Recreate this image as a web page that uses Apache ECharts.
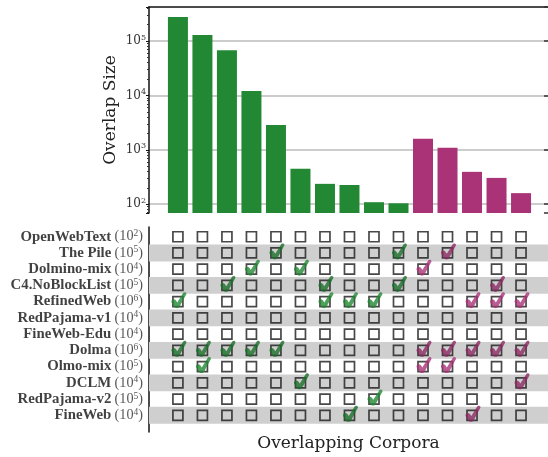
<!DOCTYPE html>
<html><head><meta charset="utf-8">
<script src="https://cdn.jsdelivr.net/npm/echarts@6/dist/echarts.min.js"></script>
<style>html,body{margin:0;padding:0;background:#fff}#c{width:548px;height:457px}</style>
</head><body><div id="c"></div>
<script>
// ---- data ----
const corpora = ['OpenWebText','The Pile','Dolmino-mix','C4.NoBlockList','RefinedWeb','RedPajama-v1','FineWeb-Edu','Dolma','Olmo-mix','DCLM','RedPajama-v2','FineWeb'];
const corpusExp = [2,5,4,5,6,4,4,6,5,4,5,4];
const overlapSizes = [277000,129000,68000,12100,2860,447,237,226,109,104,1600,1090,394,305,160];
const overlapMembers = [[4,7],[7,8],[3,7],[2,7],[1,7],[2,9],[3,4],[4,11],[4,10],[1,3],[2,7,8],[1,7,8],[4,7,11],[3,4,7],[4,7,9]];
const overlapGroup = [0,0,0,0,0,0,0,0,0,0,1,1,1,1,1];
const yTickExps = [2,3,4,5];

// ---- style ----
const FONT = 'DejaVu Serif';
const LFONT = 'Liberation Serif';
const COLORS = ['#228833','#AA3377'];
const COLORS_DARK = ['#1c6e2b','#8c2b63'];
const XMIN = -1.18, XMAX = 15.1;
const YMIN = -0.6, YMAX = 12.03;
const CHECK = 'path://M0,56 C4,44 20,42 30,54 L38,66 L78,4 C84,-3 100,0 99,12 L54,92 C46,106 26,106 18,92 L2,68 C-1,64 -1,60 0,56 Z';

const rich = {
  n:{fontFamily:LFONT,fontSize:14.2,color:'#2a2a2a',lineHeight:16},
  s:{fontFamily:LFONT,fontSize:9.5,color:'#2a2a2a',lineHeight:16,verticalAlign:'top'},
  b:{fontFamily:LFONT,fontSize:14.8,fontWeight:'bold',color:'#111',lineHeight:16}
};
const tickRich = {
  n:{fontFamily:FONT,fontSize:12,color:'#333',lineHeight:15},
  s:{fontFamily:FONT,fontSize:8,color:'#333',lineHeight:15,verticalAlign:'top'}
};

const chart = echarts.init(document.getElementById('c'));

const boxData = [], checkData = [];
for (let i = 0; i < overlapSizes.length; i++) {
  for (let k = 0; k < corpora.length; k++) boxData.push([i,k]);
  overlapMembers[i].forEach(k => {
    const g = overlapGroup[i];
    checkData.push({value:[i,k], itemStyle:{color: (k % 2 === 1) ? COLORS_DARK[g] : COLORS[g]}});
  });
}
const stripes = [];
for (let k = 1; k < corpora.length; k += 2) stripes.push([{yAxis:k-0.52},{yAxis:k+0.52}]);

const option = {
  animation:false,
  grid:[
    {left:149, right:-1, top:7, height:206},
    {left:149, right:-1, top:227, height:205}
  ],
  xAxis:[
    {gridIndex:0, type:'value', min:XMIN, max:XMAX, position:'top',
     axisLine:{show:true,onZero:false,lineStyle:{color:'#111',width:1.5}},
     axisTick:{show:false}, axisLabel:{show:false}, splitLine:{show:false}},
    {gridIndex:1, type:'value', min:XMIN, max:XMAX, position:'bottom',
     axisLine:{show:false,onZero:false}, axisTick:{show:false}, axisLabel:{show:false}, splitLine:{show:false},
     name:'Overlapping Corpora', nameLocation:'middle', nameGap:3,
     nameTextStyle:{fontFamily:FONT,fontSize:17,color:'#222'}}
  ],
  yAxis:[
    {gridIndex:0, type:'log', logBase:10, min:69, max:423000,
     name:'Overlap Size', nameLocation:'middle', nameGap:30, nameMoveOverlap:false,
     nameTextStyle:{fontFamily:FONT,fontSize:17,color:'#222'},
     axisLine:{show:true,onZero:false,lineStyle:{color:'#111',width:1.5}},
     axisTick:{show:true,inside:false,length:3,lineStyle:{color:'#111'}},
     minorTick:{show:true,splitNumber:9,length:2,lineStyle:{color:'#333'}},
     axisLabel:{showMinLabel:false,showMaxLabel:false,margin:3,
       formatter:v => {const l = Math.log10(v), e = Math.round(l); return yTickExps.includes(e) && Math.abs(l-e)<1e-6 ? '{n|10}{s|'+e+'}' : '';},
       rich:tickRich},
     splitLine:{show:true,showMinLine:false,showMaxLine:false,lineStyle:{color:'#bbbbbb',width:1.5}}},
    {gridIndex:0, type:'log', logBase:10, min:69, max:423000, position:'right',
     axisLine:{show:false,onZero:false}, axisTick:{show:true,inside:true,length:4,lineStyle:{color:'#333',width:1.5}},
     axisLabel:{show:false}, splitLine:{show:false}},
    {gridIndex:1, type:'value', inverse:true, min:YMIN, max:YMAX,
     axisLine:{show:true,onZero:false,lineStyle:{color:'#111',width:1.5}},
     axisTick:{show:false}, axisLabel:{show:false}, splitLine:{show:false}}
  ],
  series:[
    {type:'bar', xAxisIndex:0, yAxisIndex:0, barWidth:20, clip:true,
     data: overlapSizes.map((v,i)=>({value:[i,v], itemStyle:{color:COLORS[overlapGroup[i]]}}))},
    {type:'scatter', xAxisIndex:1, yAxisIndex:2, symbol:'rect', symbolSize:10, z:3,
     itemStyle:{color:'rgba(0,0,0,0)',borderColor:'#1a1a1a',borderWidth:1.7},
     data: boxData,
     markArea:{silent:true, itemStyle:{color:'#cfcfcf'}, data: stripes}},
    {type:'scatter', xAxisIndex:1, yAxisIndex:2, symbol:CHECK, symbolSize:[15,16], symbolOffset:[1,-1.5], z:4,
     data: checkData},
    {type:'scatter', xAxisIndex:1, yAxisIndex:2, symbolSize:0, z:5, clip:false,
     data: corpora.map((c,k)=>[XMIN,k]),
     label:{show:true, position:'left', distance:6, rich:rich,
       formatter: p => '{b|'+corpora[p.value[1]]+'} {n|(10}{s|'+corpusExp[p.value[1]]+'}{n|)}'}}
  ]
};
chart.setOption(option);
</script>
</body></html>
